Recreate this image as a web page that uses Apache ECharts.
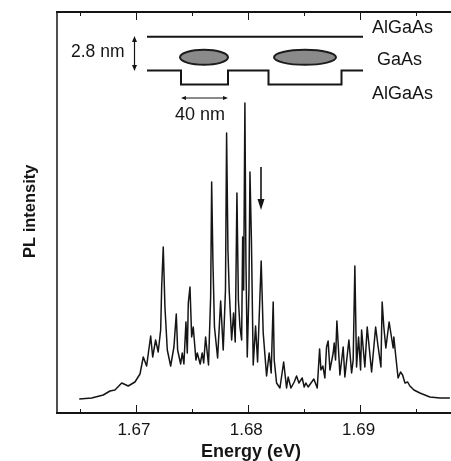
<!DOCTYPE html>
<html><head><meta charset="utf-8">
<style>html,body{margin:0;padding:0;background:#fff}#c{width:451px;height:461px}</style>
<script src="https://cdn.jsdelivr.net/npm/echarts@6/dist/echarts.min.js"></script>
</head><body><div id="c"></div>
<script>
const energies=[1.66495,1.66606,1.66709,1.66769,1.66813,1.66873,1.66893,1.66931,1.66991,1.67036,1.67065,1.67095,1.67131,1.67149,1.67175,1.67198,1.67220,1.67229,1.67243,1.67258,1.67279,1.67309,1.67338,1.67359,1.67371,1.67398,1.67412,1.67427,1.67445,1.67457,1.67466,1.67481,1.67496,1.67510,1.67534,1.67546,1.67572,1.67590,1.67603,1.67620,1.67646,1.67665,1.67674,1.67685,1.67699,1.67727,1.67754,1.67777,1.67797,1.67807,1.67819,1.67830,1.67852,1.67869,1.67884,1.67899,1.67912,1.67926,1.67941,1.67950,1.67959,1.67970,1.67979,1.67991,1.68006,1.68015,1.68028,1.68044,1.68065,1.68083,1.68097,1.68115,1.68133,1.68163,1.68186,1.68204,1.68222,1.68231,1.68252,1.68282,1.68315,1.68341,1.68355,1.68380,1.68409,1.68430,1.68451,1.68480,1.68498,1.68513,1.68533,1.68549,1.68584,1.68614,1.68635,1.68647,1.68664,1.68682,1.68697,1.68711,1.68727,1.68756,1.68765,1.68777,1.68789,1.68816,1.68845,1.68860,1.68896,1.68920,1.68934,1.68949,1.68964,1.68982,1.69000,1.69009,1.69038,1.69059,1.69098,1.69134,1.69154,1.69181,1.69192,1.69207,1.69225,1.69254,1.69269,1.69290,1.69296,1.69314,1.69334,1.69356,1.69374,1.69395,1.69419,1.69439,1.69475,1.69528,1.69617,1.69706,1.69795];
const intensity=[14,15,18,22,23,30,29,27,31,39,56,47,77,56,73,61,83,126,166,106,63,47,66,99,63,49,60,49,91,60,110,126,76,86,53,60,49,60,50,76,48,116,231,153,86,55,112,63,123,280,163,123,73,100,71,220,113,86,73,176,123,310,153,56,123,241,173,48,87,51,50,152,80,37,60,40,111,53,30,25,51,25,36,25,31,37,30,35,26,30,26,25,34,25,64,43,47,35,66,72,43,60,70,53,92,38,66,36,73,40,53,147,46,76,43,83,46,86,41,86,68,46,111,86,65,91,90,65,76,56,35,41,38,30,31,27,23,20,16,15,15];
const majorTicks=[1.67,1.68,1.69];
const minorTicks=[1.665,1.675,1.685,1.695];
const xTitle='Energy (eV)', yTitle='PL intensity';
const insetLabels=['AlGaAs','GaAs','AlGaAs','2.8 nm','40 nm'];

const xMin=1.66297,xMax=1.69805;
const FONT='"Liberation Sans",Arial,sans-serif', INK='#151515';
const axis=(position,len,labels,vals)=>({type:'value',position,min:xMin,max:xMax,
  axisLine:{show:true,onZero:false,lineStyle:{color:INK,width:2}},
  splitLine:{show:false},
  axisTick:{show:true,inside:true,length:len,customValues:vals,lineStyle:{color:INK,width:1}},
  axisLabel:labels?{show:true,customValues:vals,margin:9,padding:[0,4,0,0],fontFamily:FONT,fontSize:17,color:INK,formatter:v=>v.toFixed(2)}:{show:false}});
const stroke=w=>({stroke:INK,lineWidth:w,fill:'none'});
const line=(x1,y1,x2,y2,w)=>({type:'line',shape:{x1,y1,x2,y2},style:stroke(w),z:10});
const tri=(pts)=>({type:'polygon',shape:{points:pts},style:{fill:INK},z:10});
const txt=(text,x,y,size,weight,rot)=>({type:'text',x,y,rotation:rot||0,z:10,style:{text,fontFamily:FONT,fontSize:size,fontWeight:weight||'normal',fill:INK,align:'left',verticalAlign:'middle'}});
const ell=(cx,cy,rx,ry)=>({type:'ellipse',shape:{cx,cy,rx,ry},style:{fill:'#8a8a8a',stroke:'#1c1c1c',lineWidth:2},z:10});

const chart=echarts.init(document.getElementById('c'),null,{renderer:'canvas'});
chart.setOption({
  animation:false,backgroundColor:'#fff',
  grid:{left:57,right:0,top:12,bottom:48,containLabel:false},
  xAxis:[axis('bottom',8,true,majorTicks),axis('top',8,false,majorTicks),axis('bottom',4,false,minorTicks),axis('top',4,false,minorTicks)],
  yAxis:{type:'value',min:0,max:401,axisLine:{show:true,onZero:false,lineStyle:{color:INK,width:1.5}},axisTick:{show:false},axisLabel:{show:false},splitLine:{show:false}},
  series:[{type:'line',xAxisIndex:0,data:energies.map((e,i)=>[e,intensity[i]]),showSymbol:false,symbol:'none',smooth:false,lineStyle:{color:INK,width:1.5,join:'round'}}],
  graphic:[
    line(147,36.7,363,36.7,2),
    {type:'polyline',shape:{points:[[147,70.5],[181,70.5],[181,84.5],[228,84.5],[228,70.5],[268.5,70.5],[268.5,84.5],[341.5,84.5],[341.5,70.5],[363,70.5]]},style:stroke(2),z:10},
    ell(204,57.3,24,7.5),ell(305,57.3,31,7.5),
    line(134.5,40,134.5,68,1.2),tri([[134.5,36],[132,42],[137,42]]),tri([[134.5,71],[132,65],[137,65]]),
    line(183,98,226,98,1),tri([[181,98],[186,96],[186,100]]),tri([[228,98],[223,96],[223,100]]),
    line(261,167,261,203,1.6),tri([[261,210],[257.5,199],[264.5,199]]),
    txt(insetLabels[0],372,28,18),txt(insetLabels[1],377,60,18),txt(insetLabels[2],372,94,18),
    txt(insetLabels[3],71,52,17.5),txt(insetLabels[4],175,115,18),
    txt(xTitle,201,452,18,'bold'),
    txt(yTitle,30,258,16.5,'bold',Math.PI/2)
  ]
});
</script></body></html>
